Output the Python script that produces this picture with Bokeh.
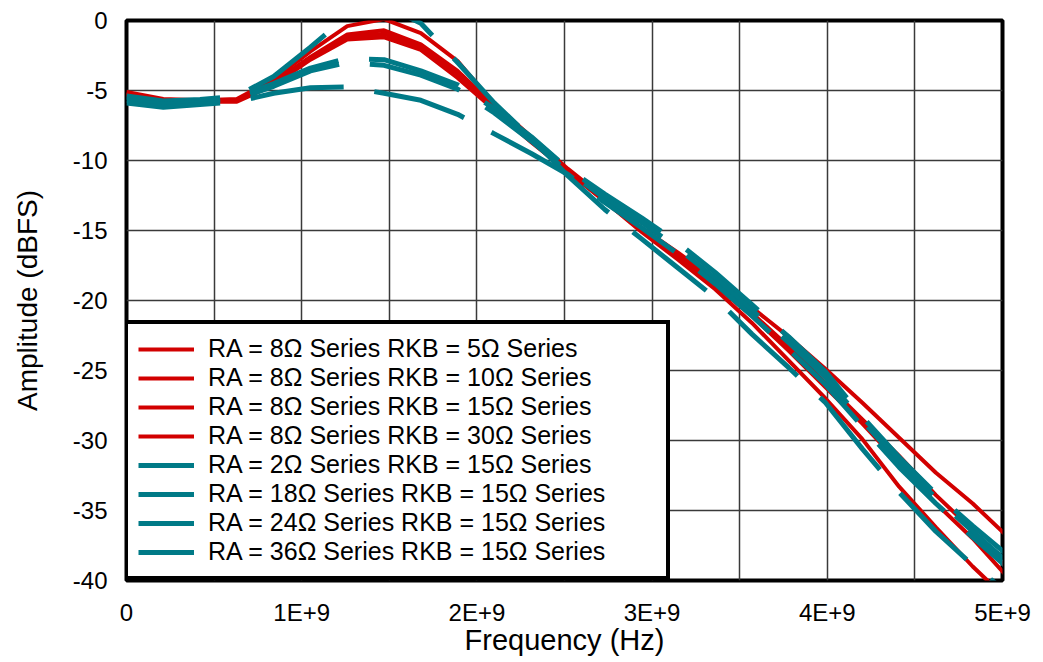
from bokeh.plotting import figure
from bokeh.models import Range1d, FixedTicker, Legend, LegendItem
from bokeh.embed import file_html
from bokeh.resources import INLINE

# Frequency points (GHz) and amplitude (dBFS) per series
freq_ghz = [0, 0.21, 0.42, 0.63, 0.84, 1.05, 1.26, 1.47, 1.68, 1.89, 2.10, 2.31, 2.52,
            2.73, 2.94, 3.15, 3.36, 3.57, 3.78, 3.99, 4.20, 4.41, 4.62, 4.83, 5.04]

ra8_rkb5 = [-5.1, -5.6, -5.7, -5.6, -4.2, -2.2, -0.4, 0.1, -0.9, -2.9, -6.0, -8.3, -10.6,
            -12.7, -14.8, -16.6, -18.5, -20.5, -22.6, -24.9, -27.3, -29.8, -32.3, -34.5, -37.0]
ra8_rkb10 = [-5.2, -5.7, -5.8, -5.7, -4.4, -2.6, -1.0, -0.7, -1.7, -3.6, -6.1, -8.4, -10.7,
             -12.8, -14.9, -16.8, -18.7, -20.9, -23.3, -25.9, -28.5, -31.1, -33.9, -36.4, -39.3]
ra8_rkb15 = [-5.2, -5.7, -5.8, -5.7, -4.5, -2.7, -1.2, -0.95, -1.9, -3.8, -6.3, -8.6, -10.8,
             -12.9, -15.0, -16.9, -18.9, -21.1, -23.6, -26.2, -28.8, -31.6, -34.5, -37.0, -39.9]
ra8_rkb30 = [-5.3, -5.8, -5.8, -5.8, -4.6, -2.8, -1.35, -1.2, -2.1, -4.1, -6.4, -8.7, -10.8,
             -12.9, -15.1, -17.1, -19.2, -21.6, -24.3, -27.0, -29.9, -33.3, -36.2, -39.0, -41.5]

ra2_rkb15 = [-5.4, -5.75, -5.65, -5.4, -4.0, -1.9, 0.3, 1.1, -0.2, -3.0, -5.9, -8.4, -11.1,
             -13.5, -15.6, -17.7, -19.8, -22.4, -24.8, -27.3, -30.6, -33.7, -36.5, -38.9, -41.0]
ra18_rkb15 = [-5.5, -5.85, -5.75, -5.5, -4.5, -3.4, -2.7, -2.8, -3.6, -4.6, -6.3, -8.3, -10.6,
              -12.4, -14.1, -15.9, -18.0, -20.3, -22.6, -25.1, -28.3, -31.2, -33.8, -36.1, -38.3]
ra24_rkb15 = [-5.7, -6.0, -5.85, -5.6, -4.7, -3.6, -3.0, -3.2, -3.9, -4.9, -6.6, -8.6, -10.8,
              -12.7, -14.4, -16.3, -18.4, -20.7, -23.0, -25.5, -28.6, -31.5, -34.1, -36.5, -38.8]
ra36_rkb15 = [-5.9, -6.2, -6.0, -5.8, -5.2, -4.8, -4.75, -5.2, -5.7, -6.7, -8.1, -9.5, -11.0,
              -13.0, -14.8, -16.7, -18.8, -21.1, -23.5, -26.0, -29.0, -31.9, -34.5, -36.9, -39.2]

series_labels = [
    "RA = 8Ω Series RKB = 5Ω Series",
    "RA = 8Ω Series RKB = 10Ω Series",
    "RA = 8Ω Series RKB = 15Ω Series",
    "RA = 8Ω Series RKB = 30Ω Series",
    "RA = 2Ω Series RKB = 15Ω Series",
    "RA = 18Ω Series RKB = 15Ω Series",
    "RA = 24Ω Series RKB = 15Ω Series",
    "RA = 36Ω Series RKB = 15Ω Series",
]
series_values = [ra8_rkb5, ra8_rkb10, ra8_rkb15, ra8_rkb30,
                 ra2_rkb15, ra18_rkb15, ra24_rkb15, ra36_rkb15]

x_tick_values = [0, 1e9, 2e9, 3e9, 4e9, 5e9]
x_tick_labels = ["0", "1E+9", "2E+9", "3E+9", "4E+9", "5E+9"]
y_tick_values = [-40, -35, -30, -25, -20, -15, -10, -5, 0]
y_tick_labels = ["-40", "-35", "-30", "-25", "-20", "-15", "-10", "-5", "0"]

RED = "#d20000"
TEAL = "#007a87"
FONT = "Liberation Sans"

freq_hz = [f * 1e9 for f in freq_ghz]

p = figure(frame_width=876, frame_height=560,
           x_range=Range1d(0, 5e9), y_range=Range1d(-40, 0),
           output_backend="svg", toolbar_location=None,
           min_border_left=126, min_border_right=38,
           min_border_top=20, min_border_bottom=72)

p.background_fill_color = "white"
p.border_fill_color = "white"
p.outline_line_color = "black"
p.outline_line_width = 4

p.xaxis.ticker = FixedTicker(ticks=x_tick_values)
p.xaxis.major_label_overrides = {v: l for v, l in zip(x_tick_values, x_tick_labels)}
p.yaxis.ticker = FixedTicker(ticks=y_tick_values)
p.yaxis.major_label_overrides = {v: l for v, l in zip(y_tick_values, y_tick_labels)}
p.xgrid.ticker = FixedTicker(ticks=[i * 0.5e9 for i in range(11)])
p.ygrid.ticker = FixedTicker(ticks=y_tick_values)

for g in (p.xgrid, p.ygrid):
    g.grid_line_color = "#3a3a3a"
    g.grid_line_width = 1.5

for ax in (p.xaxis, p.yaxis):
    ax.axis_line_color = None
    ax.major_tick_line_color = None
    ax.minor_tick_line_color = None
    ax.major_label_text_font = FONT
    ax.major_label_text_font_size = "24px"
    ax.major_label_text_color = "black"
    ax.axis_label_text_font = FONT
    ax.axis_label_text_font_style = "normal"
    ax.axis_label_text_color = "black"

p.xaxis.axis_label = "Frequency (Hz)"
p.yaxis.axis_label = "Amplitude (dBFS)"
p.xaxis.axis_label_text_font_size = "29px"
p.yaxis.axis_label_text_font_size = "28px"
p.xaxis.major_label_standoff = 12
p.xaxis.axis_label_standoff = -5
p.yaxis.major_label_standoff = 13
p.yaxis.axis_label_standoff = 27

items = []
for i, (lab, vals) in enumerate(zip(series_labels, series_values)):
    if i < 4:
        r = p.line(freq_hz, vals, line_color=RED, line_width=4)
    else:
        r = p.line(freq_hz, vals, line_color=TEAL, line_width=5, line_dash="94 31")
    items.append(LegendItem(label=lab, renderers=[r]))

legend = Legend(items=items, location=(-2, 0), margin=0,
                border_line_color="black", border_line_width=4, border_line_alpha=1.0,
                background_fill_color="white", background_fill_alpha=1.0,
                padding=10, spacing=0, glyph_width=56, glyph_height=28,
                label_height=28, label_width=448, label_standoff=14,
                label_text_font=FONT, label_text_font_size="25px",
                label_text_color="black")
p.add_layout(legend)

open("out.html", "w").write(file_html(p, INLINE))
